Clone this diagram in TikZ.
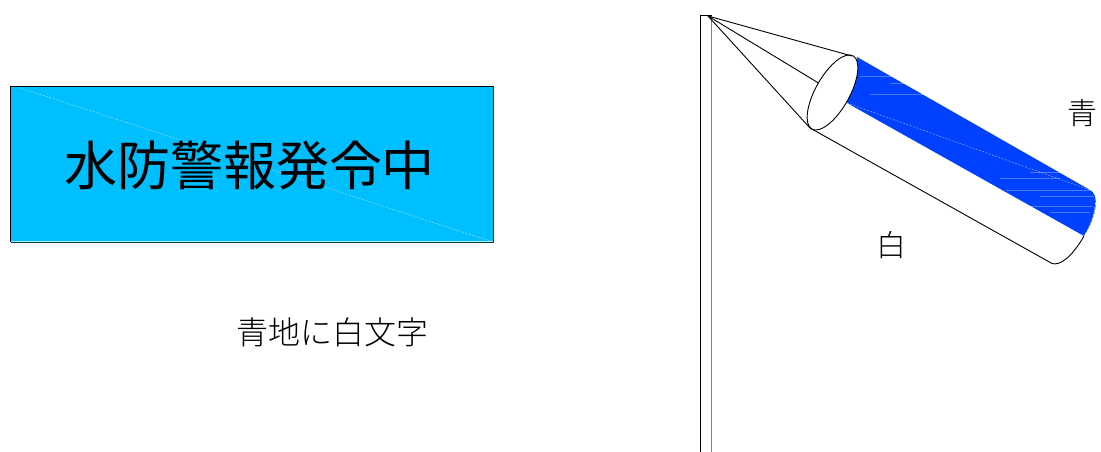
\documentclass[tikz,border=0pt]{standalone}
\usepackage{fontspec}
\newfontfamily\cjk{Noto Sans CJK JP}
\newfontfamily\cjklight{Noto Sans CJK JP Light}
\definecolor{signblue}{HTML}{00BFFF}
\definecolor{sockblue}{HTML}{0040FF}
\tikzset{
  wire/.style={draw=black,line width=0.9pt},
  seam/.style={draw=white,line width=0.5pt,opacity=.55,dash pattern=on 2pt off 1.5pt},
  streak/.style={draw=white,line width=0.6pt,opacity=.3},
  caption/.style={inner sep=0pt,font=\cjklight\fontsize{32}{32}\selectfont},
  mark label/.style={inner sep=0pt,font=\cjklight\fontsize{30}{30}\selectfont},
}
\begin{document}
\begin{tikzpicture}[x=1pt,y=-1pt]
\useasboundingbox (0,0) rectangle (1101,452);
% sign
\fill[signblue] (10.5,86) rectangle (493,242);
\draw[seam] (16,86.5) -- (490,241);
\draw[black,line width=0.9pt] (493,86) -- (10.5,86) -- (10.5,242);
\draw[white!70!signblue,line width=0.9pt] (10.5,241.6) -- (493,241.6);
\draw[black!70!signblue,line width=0.9pt] (10.5,242.8) -- (493.5,242.8) -- (493.5,86);
\node[inner sep=0pt,font=\cjk\fontsize{53}{53}\selectfont] (title) at (249.5,165.5) {水防警報発令中};
\node[caption] (cap) at (332,332) {青地に白文字};
% pole
\coordinate (poletop) at (708,16);
\draw[black,line width=1pt] (700,452) -- (700,15.5) -- (712,15.5);
\draw[black!50,line width=1pt] (711.7,16) -- (711.7,452);
% blue band
\coordinate (bandA) at (857,57);
\coordinate (bandB) at (1090,190);
\coordinate (bandC) at (1084,236);
\coordinate (bandD) at (847,103);
\fill[sockblue] (bandA) -- (bandB) .. controls (1094,192) and (1096,197) .. (1096,203)
  .. controls (1095,216) and (1090,227) .. (bandC) -- (bandD) -- cycle;
\draw[seam] (bandD) -- (bandB);
\foreach \xa/\ya/\xb in {860/76/935, 870/94/990, 890/83/960, 1006/190/1095, 1040/196/1094, 1020/206/1092, 1050/212/1090, 1030/172/1070, 1000/178/1060}
  \draw[streak] (\xa,\ya) -- (\xb,\ya);
\draw[white,line width=0.6pt,dash pattern=on 3pt off 1pt,opacity=.9] (1096,198) .. controls (1095,214) and (1091,226) .. (1084,236);
% wind sock outline
\coordinate (ringtop) at (852,56);
\coordinate (ringmid) at (818.5,83);
\coordinate (ringbot) at (810,128);
\coordinate (sockend) at (1052,263.5);
\fill[white] (832.5,92.5) ellipse[x radius=42,y radius=17,rotate=60.7];
\draw[wire] (832.5,92.5) ellipse[x radius=42,y radius=17,rotate=60.7];
\draw[wire] (poletop) -- (ringtop);
\draw[wire] (poletop) -- (ringmid);
\draw[wire] (poletop) -- (ringbot);
\draw[wire] (ringbot) -- (sockend) .. controls (1060,266) and (1072,257) .. (bandC);
\node[mark label] (blue) at (1082.5,113) {青};
\node[mark label] (white) at (891,245) {白};
\end{tikzpicture}
\end{document}
